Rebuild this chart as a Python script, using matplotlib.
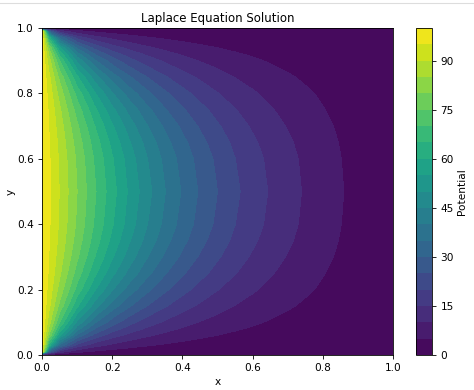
import numpy as np
import matplotlib.pyplot as plt
from matplotlib.lines import Line2D

# x columns and the lower half of the y rows
x = [0, 0.02, 0.05, 0.1, 0.15, 0.2, 0.25, 0.3, 0.35, 0.4, 0.45, 0.5, 0.55, 0.6, 0.65, 0.7, 0.75, 0.8, 0.85, 0.9, 1.0]
y_lower = [0, 0.01, 0.03, 0.06, 0.08, 0.1, 0.15, 0.2, 0.25, 0.3, 0.35, 0.4, 0.5]

# potential along each row, the top half mirrors the bottom half
# estimates: hand-worked from an approximate strip solution, checked against band edges in the picture
row_000 = [0] * len(x)
row_001 = [100, 29.5, 12.5, 6.2, 4.1, 3.0, 2.28, 1.8, 1.47, 1.2, 1.0, 0.84, 0.69, 0.57, 0.47, 0.38, 0.30, 0.23, 0.17, 0.11, 0]
row_003 = [100, 62.5, 34.2, 18.2, 12.1, 8.8, 6.82, 5.4, 4.4, 3.6, 3.0, 2.5, 2.06, 1.7, 1.41, 1.15, 0.91, 0.7, 0.51, 0.33, 0]
row_006 = [100, 79.3, 55.4, 33.7, 23.2, 17.2, 13.4, 10.7, 8.74, 7.2, 5.96, 4.95, 4.11, 3.4, 2.8, 2.3, 1.81, 1.4, 1.02, 0.67, 0]
row_008 = [100, 84.2, 63.95, 42.0, 29.9, 22.5, 17.6, 14.15, 11.5, 9.52, 7.9, 6.58, 5.45, 4.52, 3.71, 3.02, 2.41, 1.85, 1.34, 0.88, 0]
row_010 = [100, 87.1, 69.9, 48.8, 35.8, 27.4, 21.6, 17.4, 14.25, 11.8, 9.78, 8.15, 6.76, 5.6, 4.61, 3.75, 2.98, 2.3, 1.67, 1.1, 0]
row_015 = [100, 91.1, 78.6, 60.8, 47.5, 37.7, 30.4, 24.9, 20.5, 17.0, 14.2, 11.9, 9.88, 8.2, 6.76, 5.5, 4.37, 3.4, 2.45, 1.6, 0]
row_020 = [100, 93.0, 83.1, 68.1, 55.6, 45.5, 37.5, 31.2, 26.0, 21.7, 18.2, 15.2, 12.7, 10.6, 8.72, 7.1, 5.64, 4.4, 3.17, 2.1, 0]
row_025 = [100, 94.2, 85.85, 72.8, 61.2, 51.4, 43.1, 36.3, 30.5, 25.7, 21.6, 18.2, 15.2, 12.7, 10.45, 8.5, 6.8, 5.2, 3.8, 2.5, 0]
row_030 = [100, 94.8, 87.5, 75.8, 65.1, 55.6, 47.3, 40.2, 34.1, 28.9, 24.4, 20.6, 17.25, 14.4, 11.9, 9.7, 7.74, 6.0, 4.35, 2.85, 0]
row_035 = [100, 95.3, 88.6, 77.8, 67.7, 58.5, 50.3, 43.1, 36.8, 31.4, 26.6, 22.5, 18.9, 15.8, 13.1, 10.7, 8.5, 6.6, 4.8, 3.1, 0]
row_040 = [100, 95.6, 89.3, 79.1, 69.4, 60.5, 52.4, 45.1, 38.7, 33.1, 28.15, 23.9, 20.06, 16.8, 13.9, 11.4, 9.06, 7.0, 5.1, 3.3, 0]
row_050 = [100, 95.8, 89.8, 80.0, 70.7, 62.0, 53.9, 46.7, 40.2, 34.5, 29.4, 25.0, 21.0, 17.6, 14.6, 11.9, 9.5, 7.35, 5.36, 3.5, 0]

rows_lower = [row_000, row_001, row_003, row_006, row_008, row_010, row_015, row_020,
              row_025, row_030, row_035, row_040, row_050]

y = np.array(y_lower + [1 - v for v in y_lower[-2::-1]])
Z = np.array(rows_lower + rows_lower[-2::-1])
levels = list(range(0, 105, 5))
cbar_ticks = [0, 15, 30, 45, 60, 75, 90]

plt.rcParams['font.size'] = 7.6
plt.rcParams['axes.linewidth'] = 0.6
plt.rcParams['xtick.major.size'] = 2.6
plt.rcParams['ytick.major.size'] = 2.6
plt.rcParams['xtick.major.width'] = 0.6
plt.rcParams['ytick.major.width'] = 0.6

fig = plt.figure(figsize=(4.74, 3.9), dpi=100)
W, H = 474.0, 390.0
ax = fig.add_axes([42 / W, 35 / H, 351 / W, 327 / H])
cax = fig.add_axes([416 / W, 35 / H, 16 / W, 327 / H])

cs = ax.contourf(x, y, Z, levels=levels, cmap='viridis')
ax.set_title('Laplace Equation Solution', fontsize=8.5, pad=4.5)
ax.set_xlabel('x', labelpad=2.5)
ax.set_ylabel('y', labelpad=0.5)
ax.set_xticks([0, 0.2, 0.4, 0.6, 0.8, 1.0])
ax.set_yticks([0, 0.2, 0.4, 0.6, 0.8, 1.0])

cbar = fig.colorbar(cs, cax=cax, ticks=cbar_ticks)
cbar.set_label('Potential', labelpad=2)
cbar.outline.set_linewidth(0.6)

# thin grey rule at the top of the screenshot
fig.add_artist(Line2D([0, 1], [387.5 / H, 387.5 / H], color='#dddddd', lw=0.8))

fig.savefig('out.png', dpi=100)
